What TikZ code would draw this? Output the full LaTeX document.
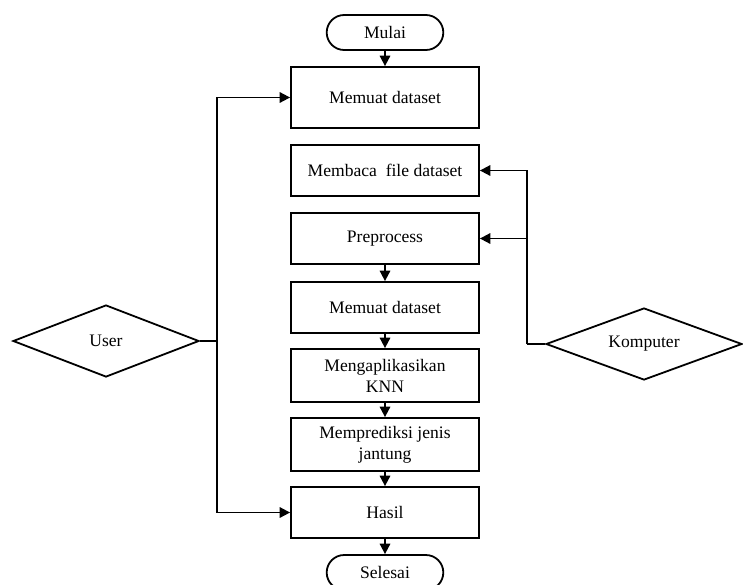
\documentclass[tikz,border=0pt]{standalone}
\usepackage{fontspec}
\setmainfont{Liberation Serif}
\usetikzlibrary{arrows.meta,shapes.geometric,shapes.misc}

\begin{document}
\begin{tikzpicture}[x=0.25mm, y=-0.25mm, line width=0.45mm,
    font=\fontsize{12.5}{15}\selectfont,
    proses/.style={draw, rectangle, minimum width=47mm, minimum height=12.75mm, align=center, inner sep=1pt},
    terminal/.style={draw, rounded rectangle, minimum width=31.5mm, minimum height=8.75mm},
    aktor/.style={draw, diamond, aspect=2.6, minimum height=18mm, inner sep=0pt},
    panah/.style={-{Triangle[length=2.6mm, width=2.6mm]}}]

    % Page size of the figure.
    \useasboundingbox (0, 0) rectangle (743, 584);

    % Start and end.
    \node[terminal] (mulai)   at (385, 32.5)  {Mulai};
    \node[terminal] (selesai) at (385, 572.5) {Selesai};

    % Process boxes.
    \node[proses, minimum height=15.25mm] (muat1) at (385, 97.5) {Memuat dataset};
    \node[proses] (baca)     at (385, 170.5) {Membaca \ file dataset};
    \node[proses] (prep)     at (385, 238.5) {Preprocess};
    \node[proses] (muat2)    at (385, 307.5) {Memuat dataset};
    \node[proses, minimum height=13.25mm] (knn)      at (385, 375.5) {Mengaplikasikan\\KNN};
    \node[proses, minimum height=13.25mm] (prediksi) at (385, 444.5) {Memprediksi jenis\\jantung};
    \node[proses] (hasil)    at (385, 512.5) {Hasil};

    % The two actors.
    \node[aktor, minimum width=46.5mm] (user)     at (106, 341) {User};
    \node[aktor, minimum width=49mm]   (komputer) at (644, 344) {Komputer};

    % Junction points for the actor lines.
    \coordinate (ujoin) at (217, 341);
    \coordinate (kjoin) at (527, 344);

    % Main flow.
    \draw[panah] (mulai) -- (muat1);
    \draw[panah] (prep) -- (muat2);
    \draw[panah] (muat2) -- (knn);
    \draw[panah] (knn) -- (prediksi);
    \draw[panah] (prediksi) -- (hasil);
    \draw[panah] (hasil) -- (selesai);

    % User lines.
    \draw (user.east) -- (ujoin);
    \draw[panah] (ujoin) |- (muat1.west);
    \draw[panah] (ujoin) |- (hasil.west);

    % Komputer lines.
    \draw (komputer.west) -- (kjoin);
    \draw[panah] (kjoin) |- (baca.east);
    \draw[panah] (kjoin) |- (prep.east);
\end{tikzpicture}
\end{document}
